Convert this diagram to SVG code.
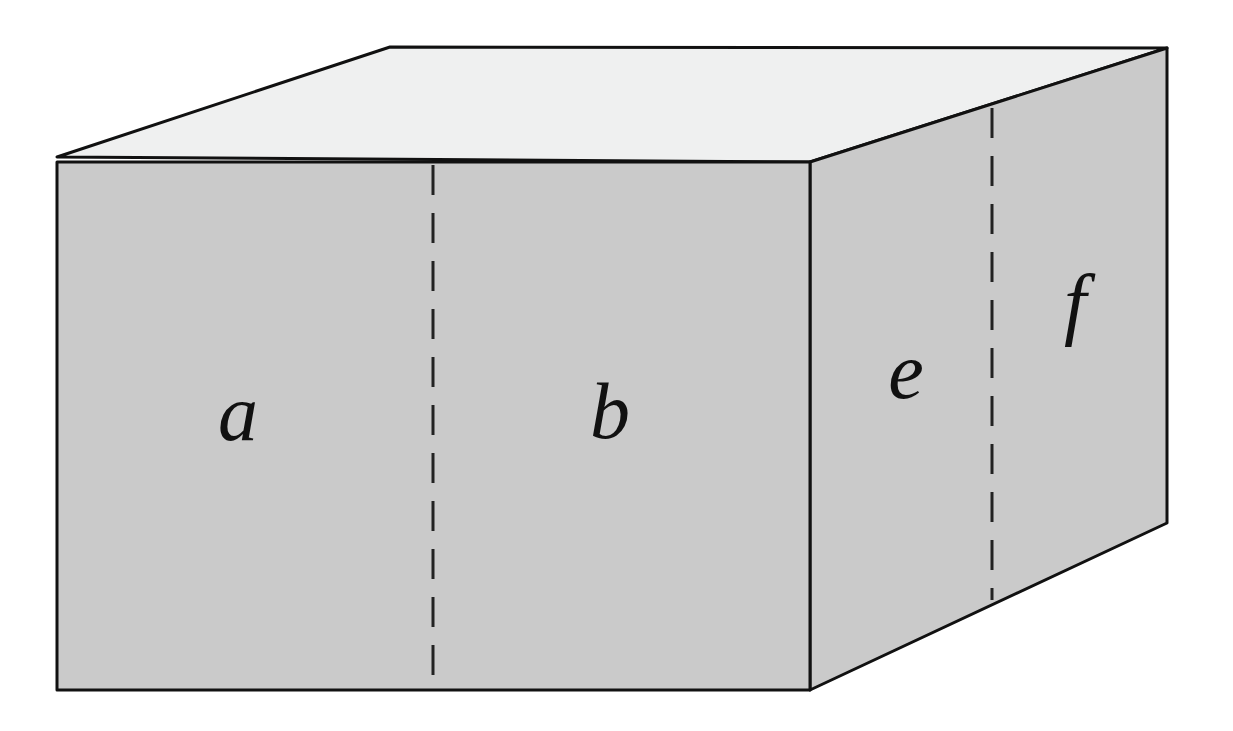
<svg xmlns="http://www.w3.org/2000/svg" width="1233" height="731" viewBox="0 0 1233 731">
<style>
.f{stroke:#111;stroke-width:3;stroke-linejoin:round}
.d{stroke:#222;stroke-width:3;stroke-dasharray:30,18;fill:none}
.t{font-family:'Liberation Serif','Times New Roman','DejaVu Serif',serif;font-style:italic;font-size:80px;fill:#111;text-anchor:middle}
</style>
<rect width="1233" height="731" fill="#fff"/>
<polygon class="f" fill="#eff0f0" points="57,157 390,47 1167,48 810,162"/>
<polygon class="f" fill="#cacaca" points="810,162 1167,48 1167,523 810,690"/>
<rect class="f" fill="#cacaca" x="57" y="162" width="753" height="528"/>
<line class="d" x1="433" y1="165" x2="433" y2="690"/>
<line class="d" x1="992" y1="108" x2="992" y2="600"/>
<g class="t">
<text x="238" y="440">a</text>
<text x="610" y="438">b</text>
<text x="906" y="398">e</text>
<text x="1075" y="330">f</text>
</g>
</svg>
